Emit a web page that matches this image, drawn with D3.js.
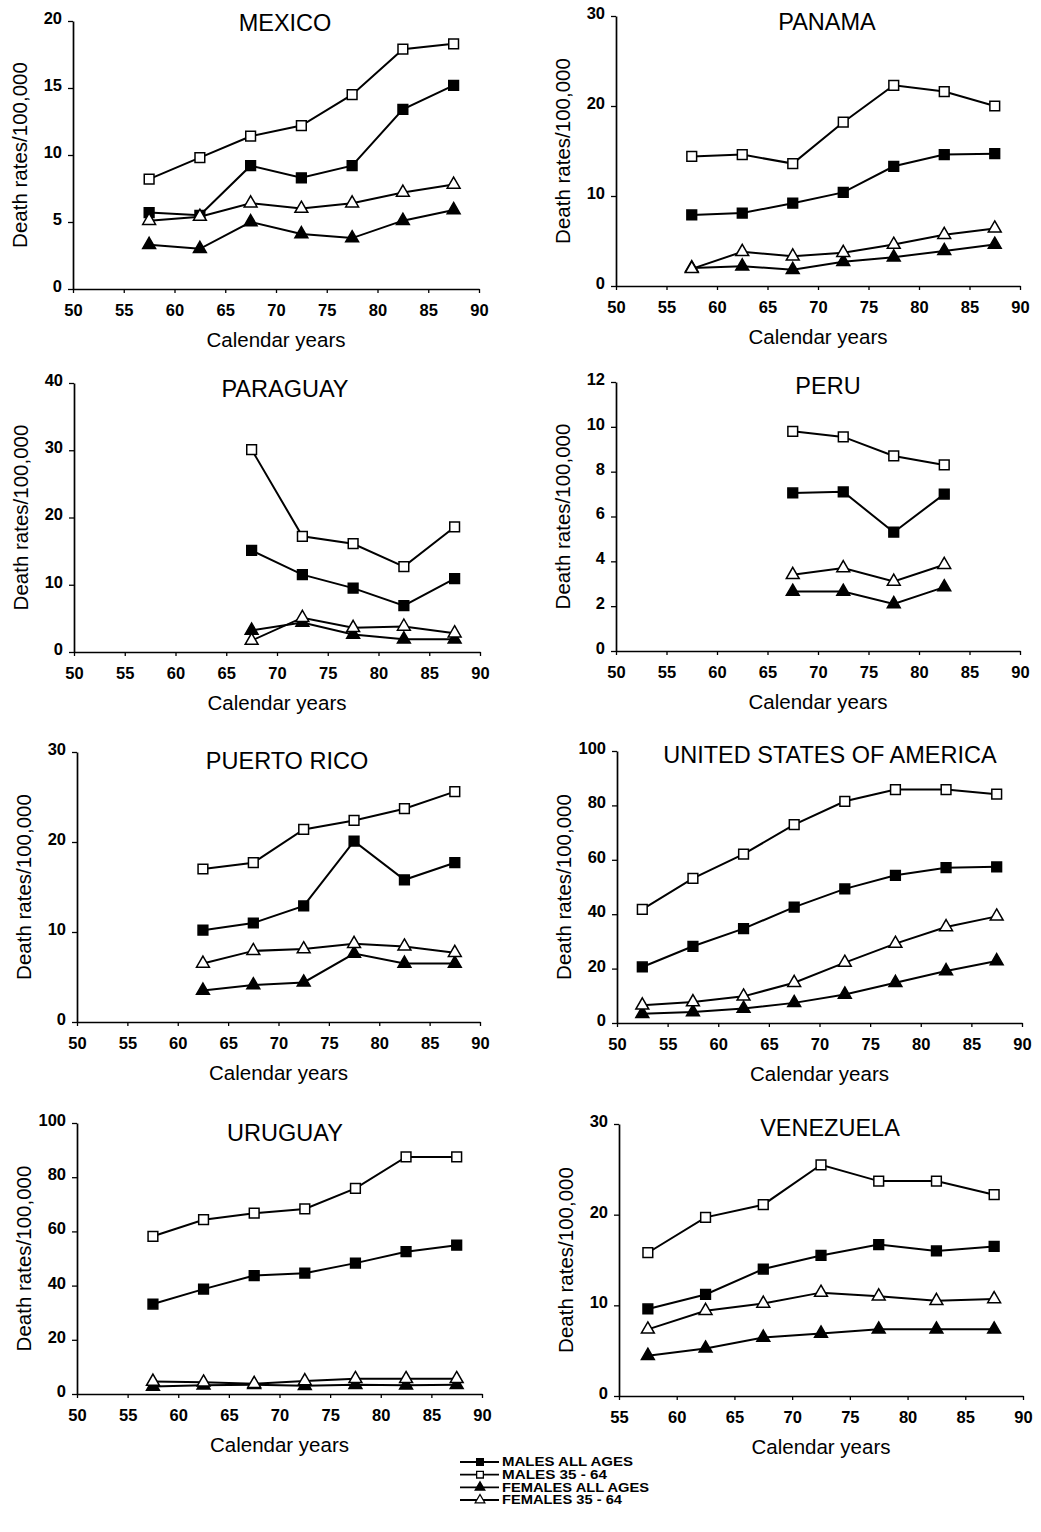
<!DOCTYPE html>
<html>
<head>
<meta charset="utf-8">
<script src="https://cdn.jsdelivr.net/npm/d3@7"></script>
<style>
  body { margin: 0; background: #fff; }
  svg { font-family: "Liberation Sans", Arial, Helvetica, sans-serif; }
  .tick text { font-size: 16.5px; font-weight: bold; }
  .title { font-size: 23.5px; }
  .axis-label { font-size: 20.5px; }
  .legend text { font-size: 12px; font-weight: bold; }
</style>
</head>
<body>
<div class="graphic"></div>
<script>
var width = 1041;
var height = 1532;

var seriesNames = ["MALES ALL AGES", "MALES 35 - 64", "FEMALES ALL AGES", "FEMALES 35 - 64"];
var seriesSymbols = ["square", "square", "triangle", "triangle"];
var seriesFilled = [true, false, true, false];

// rates per country: [males all ages, males 35-64, females all ages, females 35-64]
var mexicoYears = [57.5, 62.5, 67.5, 72.5, 77.5, 82.5, 87.5];
var mexicoRates = [
	[5.7, 5.5, 9.2, 8.3, 9.2, 13.4, 15.2],
	[8.2, 9.8, 11.4, 12.2, 14.5, 17.9, 18.3],
	[3.3, 3.0, 5.0, 4.1, 3.8, 5.1, 5.9],
	[5.1, 5.4, 6.4, 6.0, 6.4, 7.2, 7.8]
];

var panamaYears = [57.5, 62.5, 67.5, 72.5, 77.5, 82.5, 87.5];
var panamaRates = [
	[7.9, 8.1, 9.2, 10.4, 13.3, 14.6, 14.7],
	[14.4, 14.6, 13.6, 18.2, 22.3, 21.6, 20.0],
	[2.0, 2.2, 1.8, 2.7, 3.2, 3.9, 4.6],
	[1.9, 3.8, 3.3, 3.7, 4.6, 5.7, 6.4]
];

var paraguayYears = [67.5, 72.5, 77.5, 82.5, 87.5];
var paraguayRates = [
	[15.1, 11.5, 9.5, 6.9, 10.9],
	[30.1, 17.2, 16.1, 12.7, 18.6],
	[3.2, 4.4, 2.6, 1.9, 1.9],
	[1.7, 5.1, 3.6, 3.8, 2.8]
];

var peruYears = [67.5, 72.5, 77.5, 82.5];
var peruRates = [
	[7.05, 7.1, 5.3, 7.0],
	[9.8, 9.55, 8.7, 8.3],
	[2.65, 2.65, 2.1, 2.85],
	[3.4, 3.7, 3.1, 3.85]
];

var puertoRicoYears = [62.5, 67.5, 72.5, 77.5, 82.5, 87.5];
var puertoRicoRates = [
	[10.2, 11.0, 12.9, 20.1, 15.8, 17.7],
	[17.0, 17.7, 21.4, 22.4, 23.7, 25.6],
	[3.5, 4.1, 4.4, 7.6, 6.5, 6.5],
	[6.5, 7.9, 8.1, 8.7, 8.4, 7.7]
];

var usaYears = [52.5, 57.5, 62.5, 67.5, 72.5, 77.5, 82.5, 87.5];
var usaRates = [
	[20.6, 28.2, 34.7, 42.6, 49.3, 54.3, 57.1, 57.4],
	[41.8, 53.2, 62.1, 72.9, 81.5, 85.8, 85.8, 84.1],
	[3.4, 4.0, 5.3, 7.4, 10.5, 14.8, 19.1, 22.8],
	[6.5, 7.7, 9.8, 14.8, 22.2, 29.2, 35.3, 39.2]
];

var uruguayYears = [57.5, 62.5, 67.5, 72.5, 77.5, 82.5, 87.5];
var uruguayRates = [
	[33.2, 38.7, 43.7, 44.6, 48.3, 52.5, 54.9],
	[58.2, 64.3, 66.7, 68.3, 75.9, 87.5, 87.5],
	[2.8, 3.2, 3.4, 3.0, 3.4, 3.2, 3.4],
	[4.6, 4.3, 3.8, 4.8, 5.6, 5.6, 5.6]
];

var venezuelaYears = [57.5, 62.5, 67.5, 72.5, 77.5, 82.5, 87.5];
var venezuelaRates = [
	[9.6, 11.2, 14.0, 15.5, 16.7, 16.0, 16.5],
	[15.8, 19.7, 21.1, 25.5, 23.7, 23.7, 22.2],
	[4.45, 5.25, 6.45, 6.9, 7.35, 7.35, 7.35],
	[7.35, 9.4, 10.2, 11.4, 11.0, 10.5, 10.7]
];

// layout: axis box [x0, x1, yTop, yBottom], title centre
var panels = [
	{name: "MEXICO", years: mexicoYears, rates: mexicoRates, xMin: 50, yMax: 20, yStep: 5, box: [73, 479, 21, 289], title: [285, 23]},
	{name: "PANAMA", years: panamaYears, rates: panamaRates, xMin: 50, yMax: 30, yStep: 10, box: [616, 1020, 16, 286], title: [827, 22]},
	{name: "PARAGUAY", years: paraguayYears, rates: paraguayRates, xMin: 50, yMax: 40, yStep: 10, box: [74, 480, 383, 652], title: [285, 389]},
	{name: "PERU", years: peruYears, rates: peruRates, xMin: 50, yMax: 12, yStep: 2, box: [616, 1020, 382, 651], title: [828, 386]},
	{name: "PUERTO RICO", years: puertoRicoYears, rates: puertoRicoRates, xMin: 50, yMax: 30, yStep: 10, box: [77, 480, 752, 1022], title: [287, 761]},
	{name: "UNITED STATES OF AMERICA", years: usaYears, rates: usaRates, xMin: 50, yMax: 100, yStep: 20, box: [617, 1022, 751, 1023], title: [830, 755]},
	{name: "URUGUAY", years: uruguayYears, rates: uruguayRates, xMin: 50, yMax: 100, yStep: 20, box: [77, 482, 1123, 1394], title: [285, 1133]},
	{name: "VENEZUELA", years: venezuelaYears, rates: venezuelaRates, xMin: 55, yMax: 30, yStep: 10, box: [619, 1023, 1124, 1396], title: [830, 1128]}
];

// widths of the legend texts in the reference
var legendWidths = [131, 105, 147, 120];

var svg = d3.select("div.graphic").append("svg")
	.attr("width", width)
	.attr("height", height);

function symbolPath(kind, big){
	if (kind == "square"){
		return d3.symbol().type(d3.symbolSquare).size(big ? 95 : 45)();
	}
	return d3.symbol().type(d3.symbolTriangle).size(big ? 72 : 40)();
}

function drawPanel(p){
	var g = svg.append("g");
	var x = d3.scaleLinear().domain([p.xMin, 90]).range([p.box[0], p.box[1]]);
	var y = d3.scaleLinear().domain([0, p.yMax]).range([p.box[3], p.box[2]]);

	g.append("g")
		.attr("transform", "translate(0," + p.box[3] + ")")
		.call(d3.axisBottom(x).tickValues(d3.range(p.xMin, 91, 5)).tickSize(4).tickPadding(11).tickSizeOuter(0));
	var yAxis = g.append("g")
		.attr("transform", "translate(" + p.box[0] + ",0)")
		.call(d3.axisLeft(y).tickValues(d3.range(0, p.yMax + 0.01, p.yStep)).tickSize(5).tickPadding(6).tickSizeOuter(0));
	yAxis.selectAll(".tick text").attr("dy", "0.15em");

	g.selectAll(".domain").attr("stroke", "#000").attr("stroke-width", 1.7);
	g.selectAll(".tick line").attr("stroke", "#000").attr("stroke-width", 1.3);
	g.selectAll(".tick text").attr("fill", "#000");

	g.append("text")
		.attr("class", "title")
		.attr("x", p.title[0])
		.attr("y", p.title[1])
		.attr("dy", "0.35em")
		.attr("text-anchor", "middle")
		.text(p.name);

	g.append("text")
		.attr("class", "axis-label")
		.attr("x", (p.box[0] + p.box[1]) / 2)
		.attr("y", p.box[3] + 51)
		.attr("dy", "0.35em")
		.attr("text-anchor", "middle")
		.text("Calendar years");

	var midY = (p.box[2] + p.box[3]) / 2;
	g.append("text")
		.attr("class", "axis-label")
		.attr("transform", "translate(" + (p.box[0] - 53) + "," + midY + ") rotate(-90)")
		.attr("dy", "0.35em")
		.attr("text-anchor", "middle")
		.text("Death rates/100,000");

	var line = d3.line()
		.x(function(d){ return x(d[0]); })
		.y(function(d){ return y(d[1]); });

	p.rates.forEach(function(values, i){
		var pts = values.map(function(v, j){ return [p.years[j], v]; });
		g.append("path")
			.datum(pts)
			.attr("d", line)
			.attr("fill", "none")
			.attr("stroke", "#000")
			.attr("stroke-width", 2);
	});

	p.rates.forEach(function(values, i){
		var pts = values.map(function(v, j){ return [p.years[j], v]; });
		g.selectAll(".mark" + i)
			.data(pts)
			.enter()
			.append("path")
			.attr("class", "mark" + i)
			.attr("d", symbolPath(seriesSymbols[i], true))
			.attr("transform", function(d){ return "translate(" + x(d[0]) + "," + y(d[1]) + ")"; })
			.attr("fill", seriesFilled[i] ? "#000" : "#fff")
			.attr("stroke", "#000")
			.attr("stroke-width", 1.5);
	});
}

panels.forEach(drawPanel);

// legend
var legend = svg.append("g").attr("class", "legend");
var legendY = d3.scalePoint().domain(seriesNames).range([1462, 1500]);
seriesNames.forEach(function(name, i){
	var ly = legendY(name);
	legend.append("line")
		.attr("x1", 460).attr("x2", 499)
		.attr("y1", ly).attr("y2", ly)
		.attr("stroke", "#000")
		.attr("stroke-width", 1.8);
	legend.append("path")
		.attr("d", symbolPath(seriesSymbols[i], false))
		.attr("transform", "translate(480," + ly + ")")
		.attr("fill", seriesFilled[i] ? "#000" : "#fff")
		.attr("stroke", "#000")
		.attr("stroke-width", 1.3);
	legend.append("text")
		.attr("x", 502)
		.attr("y", ly)
		.attr("dy", "0.35em")
		.attr("textLength", legendWidths[i])
		.attr("lengthAdjust", "spacingAndGlyphs")
		.text(name);
});
</script>
</body>
</html>
